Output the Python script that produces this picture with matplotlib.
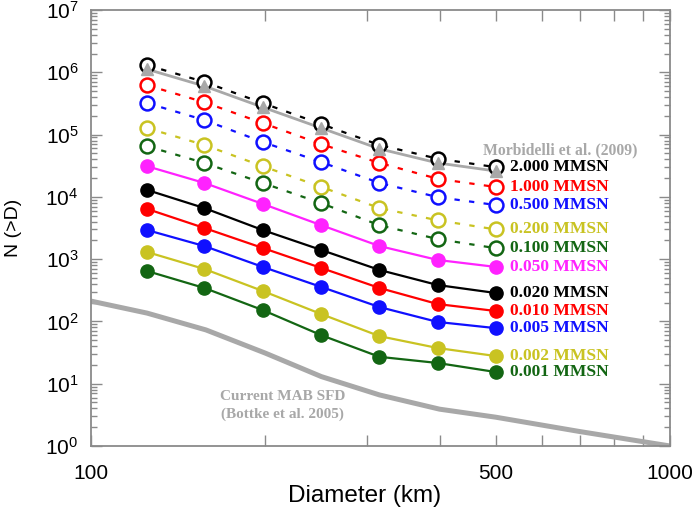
import matplotlib
matplotlib.use("Agg")
import matplotlib.pyplot as plt
from matplotlib.ticker import FixedLocator, NullFormatter, FixedFormatter

plt.rcParams['font.family'] = ['Liberation Sans', 'DejaVu Sans']
plt.rcParams['mathtext.fontset'] = 'custom'
plt.rcParams['mathtext.rm'] = 'Liberation Sans'
plt.rcParams['mathtext.it'] = 'Liberation Sans'

# ---- data ----
diam = [125, 157, 198, 250, 315, 397, 500]

morbidelli = [1.12e6, 6.0e5, 2.75e5, 1.27e5, 5.9e4, 3.5e4, 2.6e4]

open_labels = ["2.000 MMSN", "1.000 MMSN", "0.500 MMSN", "0.200 MMSN", "0.100 MMSN"]
mmsn_2000 = [1.30e6, 7.0e5, 3.2e5, 1.47e5, 6.8e4, 4.1e4, 3.0e4]
mmsn_1000 = [6.2e5, 3.3e5, 1.53e5, 7.0e4, 3.5e4, 1.95e4, 1.44e4]
mmsn_0500 = [3.2e5, 1.71e5, 7.6e4, 3.6e4, 1.67e4, 9.9e3, 7.4e3]
mmsn_0200 = [1.27e5, 6.8e4, 3.1e4, 1.44e4, 6.6e3, 4.2e3, 3.0e3]
mmsn_0100 = [6.5e4, 3.5e4, 1.67e4, 7.9e3, 3.5e3, 2.1e3, 1.5e3]

solid_labels = ["0.050 MMSN", "0.020 MMSN", "0.010 MMSN", "0.005 MMSN", "0.002 MMSN", "0.001 MMSN"]
mmsn_0050 = [3.1e4, 1.67e4, 7.7e3, 3.5e3, 1.62e3, 970, 750]
mmsn_0020 = [1.29e4, 6.6e3, 2.93e3, 1.40e3, 670, 384, 286]
mmsn_0010 = [6.4e3, 3.16e3, 1.51e3, 720, 344, 190, 147]
mmsn_0005 = [2.93e3, 1.62e3, 750, 357, 170, 98, 78]
mmsn_0002 = [1.30e3, 694, 308, 131, 58, 37.4, 27.8]
mmsn_0001 = [644, 344, 152, 60, 27, 21.5, 15.4]

mab_diam = [100, 125, 158, 200, 250, 315, 400, 500, 700, 1000]
mab_n = [212, 136, 73, 31, 13, 6.6, 3.9, 2.9, 1.7, 1.0]

x_tick_pos = [100, 200, 300, 400, 500, 600, 700, 800, 900, 1000]
x_tick_labels = ["100", "", "", "", "500", "", "", "", "", "1000"]
y_tick_pos = [1e0, 1e1, 1e2, 1e3, 1e4, 1e5, 1e6, 1e7]
y_tick_labels = [r"$10^{0}$", r"$10^{1}$", r"$10^{2}$", r"$10^{3}$",
                 r"$10^{4}$", r"$10^{5}$", r"$10^{6}$", r"$10^{7}$"]

# ---- style ----
RED = "#ff0000"
BLUE = "#1010ff"
YEL = "#c9c322"
GRN = "#136613"
MAG = "#ff22ff"
BLK = "#000000"
GRAY = "#a8a8a8"
SPINE = "#8a8a8a"

fig = plt.figure(figsize=(6.96, 5.16), dpi=100)
ax = fig.add_axes([0.1307, 0.1357, 0.8319, 0.8449])
ax.set_xscale('log')
ax.set_yscale('log')
ax.set_xlim(100, 1000)
ax.set_ylim(1, 1e7)

# MAB current SFD
ax.plot(mab_diam, mab_n, color=GRAY, lw=3.6, solid_capstyle='butt', zorder=2)

open_series = [mmsn_2000, mmsn_1000, mmsn_0500, mmsn_0200, mmsn_0100]
open_colors = [BLK, RED, BLUE, YEL, GRN]

# Morbidelli line
ax.plot(diam, morbidelli, color=GRAY, lw=2.0, zorder=3)

for vals, c in zip(open_series, open_colors):
    ax.plot(diam, vals, color=c, lw=1.6, ls=(0, (2.4, 4.2)), zorder=4)
    ax.plot(diam, vals, ls='none', marker='o', ms=10, mfc='white', mec=c, mew=1.8, zorder=5)

# Morbidelli markers on top
ax.plot(diam, morbidelli, ls='none', marker='^', ms=9, mfc=GRAY, mec=GRAY, zorder=6)

solid_series = [mmsn_0050, mmsn_0020, mmsn_0010, mmsn_0005, mmsn_0002, mmsn_0001]
solid_colors = [MAG, BLK, RED, BLUE, YEL, GRN]
for vals, c in zip(solid_series, solid_colors):
    ax.plot(diam, vals, color=c, lw=1.6, marker='o', ms=9.5, mfc=c, mec=c, zorder=5)

# labels next to last points
serif = ['Liberation Serif', 'DejaVu Serif']
for lab, vals, c in zip(open_labels + solid_labels, open_series + solid_series, open_colors + solid_colors):
    ax.text(530, vals[-1], lab, color=c, fontsize=12.6, fontweight='bold', family=serif,
            ha='left', va='center', zorder=7)

ax.text(646, 5.6e4, "Morbidelli et al. (2009)", color=GRAY, fontsize=11.3, fontweight='bold',
        family=serif, ha='center', va='center')
ax.text(214, 4.5, "Current MAB SFD\n(Bottke et al. 2005)", color=GRAY, fontsize=11,
        fontweight='bold', family=serif, ha='center', va='center', linespacing=1.4)

# axes styling
for s in ax.spines.values():
    s.set_color(SPINE)
    s.set_linewidth(1.3)

ax.xaxis.set_major_locator(FixedLocator(x_tick_pos))
ax.xaxis.set_major_formatter(FixedFormatter(x_tick_labels))
ax.xaxis.set_minor_locator(FixedLocator([]))
ax.yaxis.set_major_locator(FixedLocator(y_tick_pos))
ax.yaxis.set_major_formatter(FixedFormatter(y_tick_labels))
y_minor = [m * 10 ** e for e in range(0, 7) for m in range(2, 10)]
ax.yaxis.set_minor_locator(FixedLocator(y_minor))
ax.yaxis.set_minor_formatter(NullFormatter())

ax.tick_params(which='both', direction='in', top=True, right=True, color=SPINE, width=1.0)
ax.tick_params(axis='x', which='major', length=8, labelsize=15, pad=13)
ax.tick_params(axis='y', which='major', length=8, labelsize=15, pad=9)
ax.tick_params(axis='y', which='minor', length=4.5)

ax.set_xlabel("Diameter (km)", fontsize=17.5, va='center')
ax.xaxis.set_label_coords(0.473, -0.114)
ax.set_ylabel("N (>D)", fontsize=14)
ax.yaxis.set_label_coords(-0.119, 0.5)

fig.savefig("out.png", dpi=100)
